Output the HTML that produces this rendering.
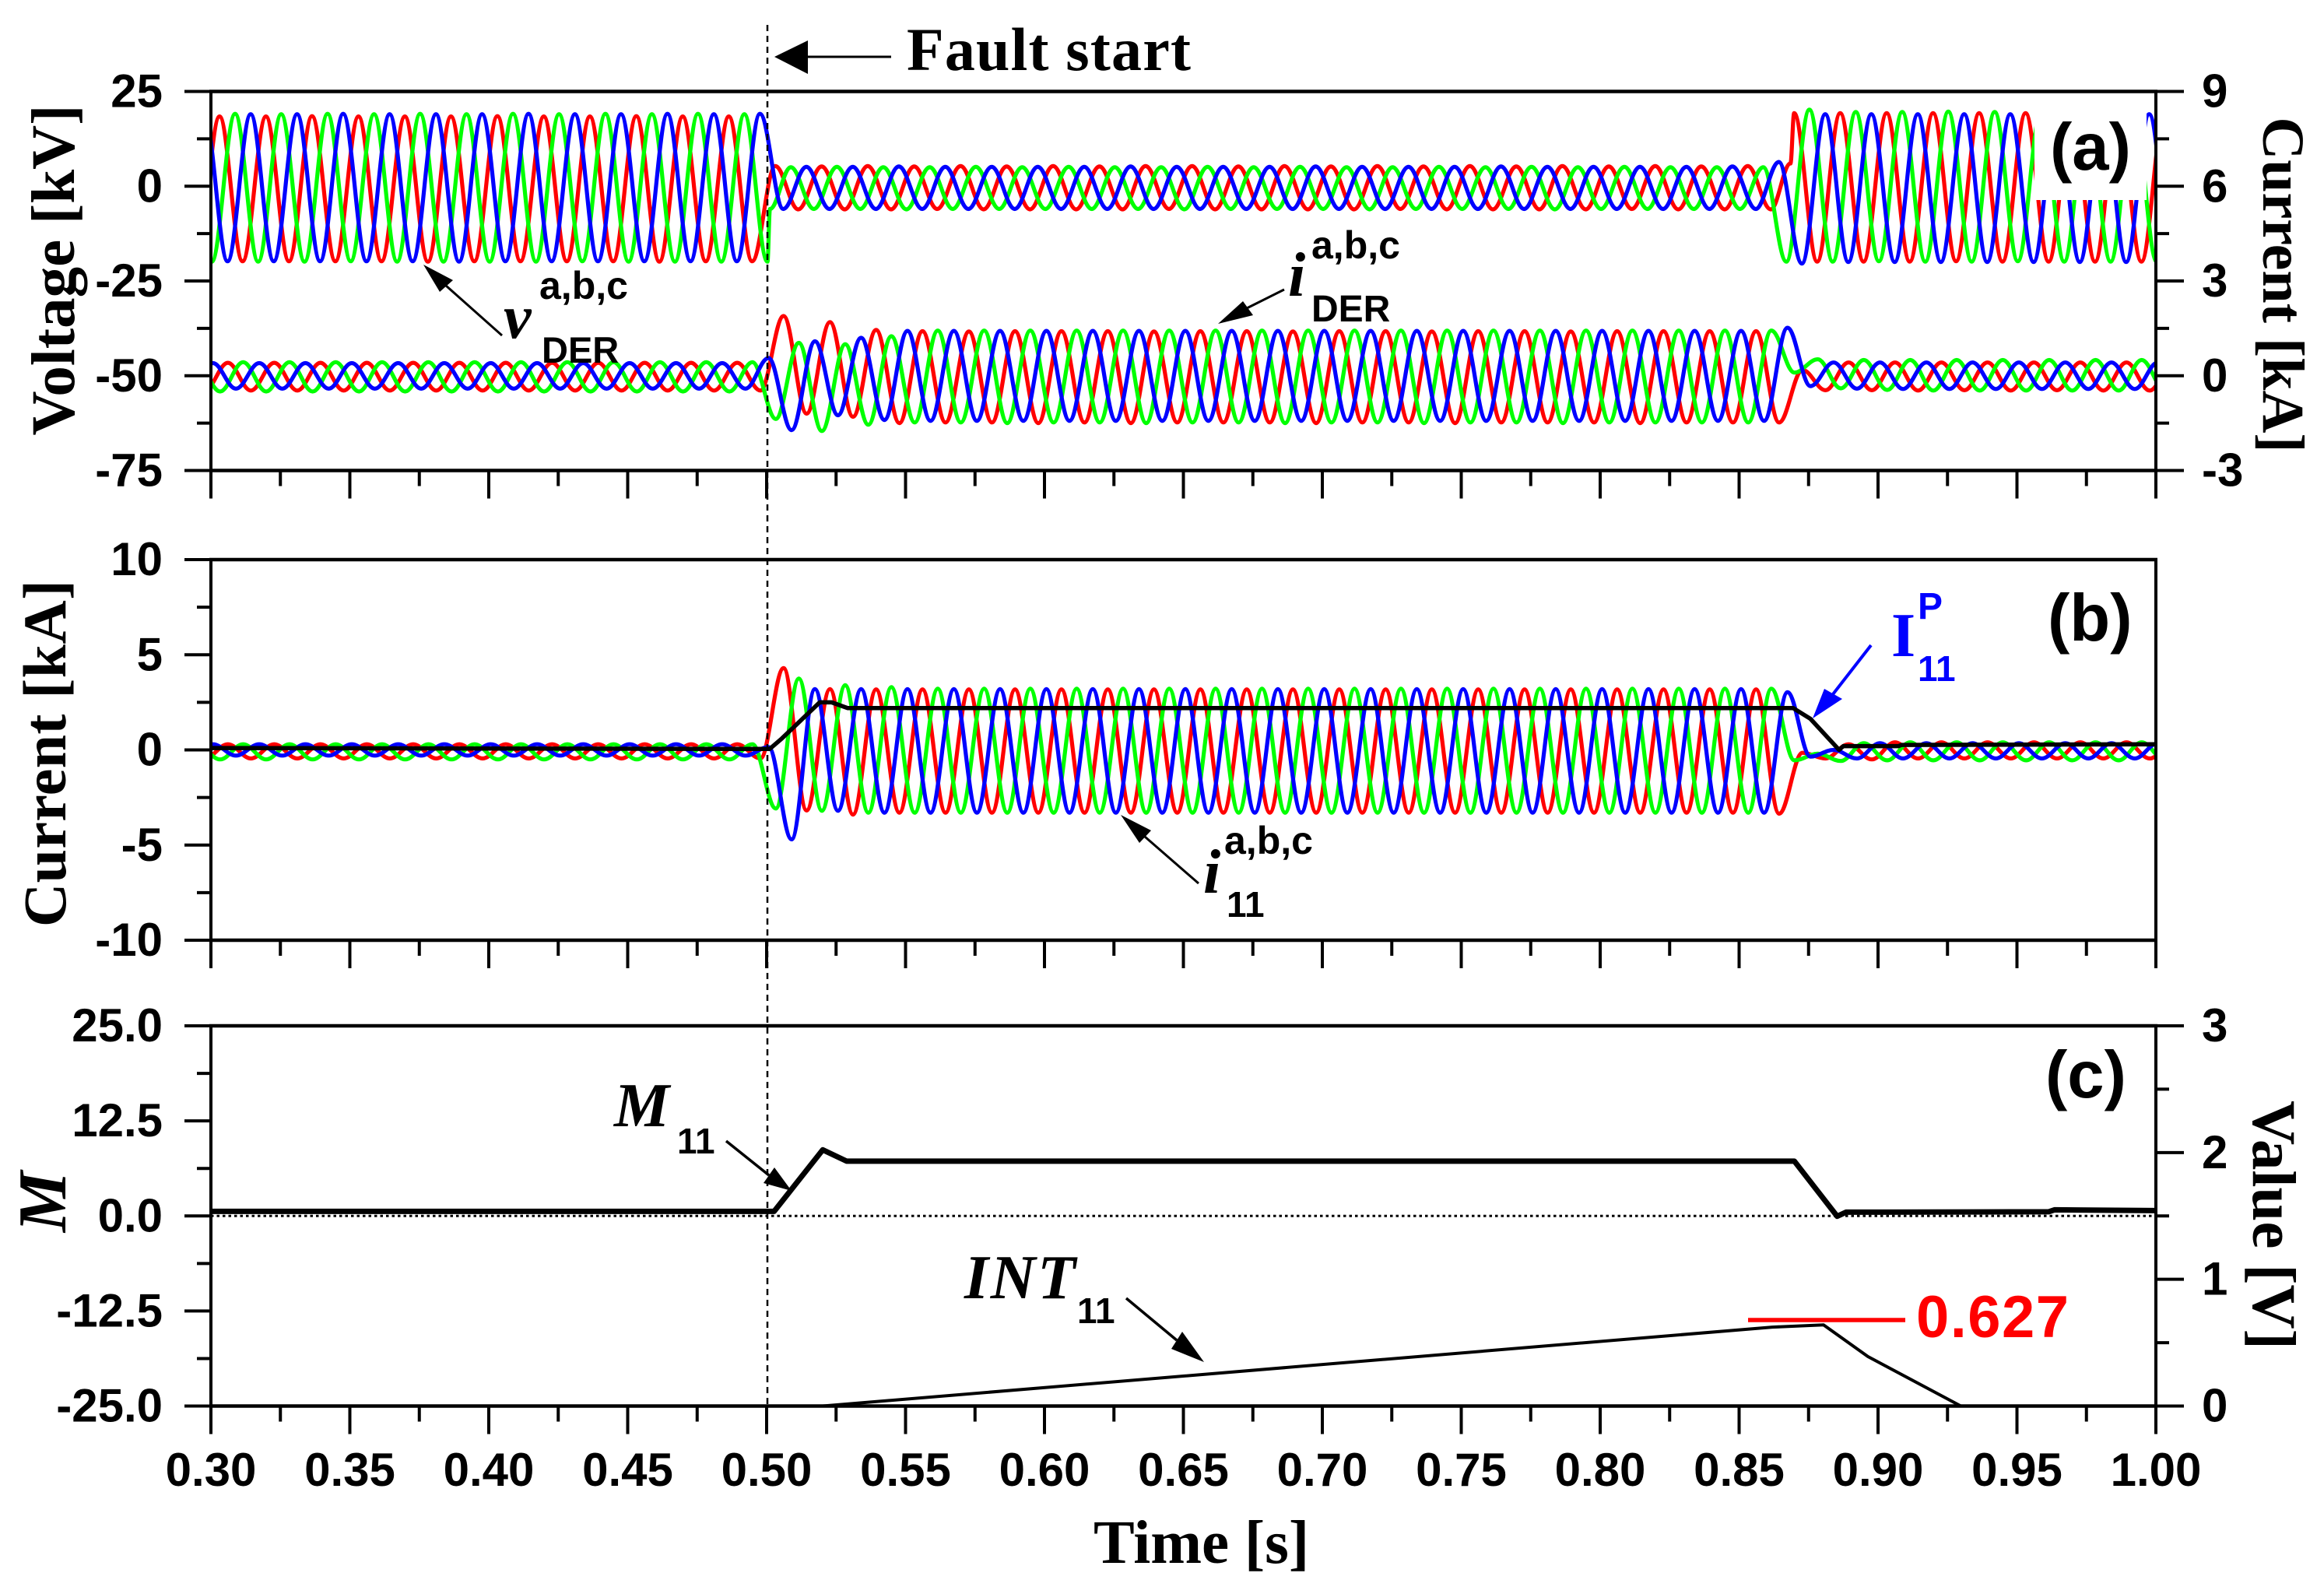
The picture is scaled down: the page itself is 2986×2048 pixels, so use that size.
<!DOCTYPE html>
<html lang="en">
<head>
<meta charset="utf-8">
<title>DER fault waveforms</title>
<style>
html,body{margin:0;padding:0;background:#fff;}
svg{display:block;}
.sans{font-family:"Liberation Sans",Arial,sans-serif;font-weight:bold;}
.serif{font-family:"Liberation Serif","Times New Roman",serif;font-weight:bold;}
.ital{font-family:"Liberation Serif","Times New Roman",serif;font-style:italic;font-weight:bold;}
</style>
</head>
<body>
<svg id="chart" width="2986" height="2048" viewBox="0 0 2986 2048">
<defs>
<clipPath id="clip-a"><rect x="271" y="118" width="2499" height="486"/></clipPath>
<clipPath id="clip-b"><rect x="271" y="719" width="2499" height="489"/></clipPath>
<clipPath id="clip-c"><rect x="271" y="1318" width="2499" height="489"/></clipPath>
</defs>
<rect x="0" y="0" width="2986" height="2048" fill="#fff"/>
<g id="series-a" clip-path="url(#clip-a)"></g>
<rect x="2614" y="119" width="144" height="138" fill="#fff"/>
<g id="series-b" clip-path="url(#clip-b)"></g>
<g id="series-c" clip-path="url(#clip-c)"></g>
<g id="axes"></g>

<line x1="986" y1="32" x2="986" y2="1806" stroke="#000" stroke-width="2.5" stroke-dasharray="8 6"/>
<polygon points="995,73 1038,52 1038,95" fill="#000"/>
<line x1="1038" y1="73" x2="1145" y2="73" stroke="#000" stroke-width="3"/>
<text x="1165" y="90" class="serif" font-size="78" textLength="365">Fault start</text>

<text transform="translate(95,347) rotate(-90)" text-anchor="middle" class="serif" font-size="79">Voltage [kV]</text>
<text transform="translate(2908,366) rotate(90)" text-anchor="middle" class="serif" font-size="76">Current [kA]</text>
<text transform="translate(84,968) rotate(-90)" text-anchor="middle" class="serif" font-size="78" textLength="446">Current [kA]</text>
<text transform="translate(84,1544) rotate(-90)" text-anchor="middle" class="ital" font-size="88">M</text>
<text transform="translate(2895,1574) rotate(90)" text-anchor="middle" class="serif" font-size="79">Value [V]</text>
<text x="1405" y="2008" class="serif" font-size="79">Time [s]</text>

<text x="2634" y="218" class="sans" font-size="85">(a)</text>
<text x="2631" y="823" class="sans" font-size="85">(b)</text>
<text x="2628" y="1410" class="sans" font-size="85">(c)</text>

<polygon points="544,340 582,360 565,375" fill="#000"/>
<line x1="573" y1="367" x2="645" y2="431" stroke="#000" stroke-width="3"/>
<text x="647" y="434" class="ital" font-size="80" font-weight="normal">v</text>
<text x="693" y="384" class="sans" font-size="50">a,b,c</text>
<text x="696" y="466" class="sans" font-size="47">DER</text>

<polygon points="1565,416 1597,387 1610,405" fill="#000"/>
<line x1="1602" y1="396" x2="1650" y2="372" stroke="#000" stroke-width="3"/>
<text x="1655" y="380" class="ital" font-size="80">i</text>
<text x="1685" y="332" class="sans" font-size="50">a,b,c</text>
<text x="1685" y="413" class="sans" font-size="48">DER</text>

<polygon points="1440,1047 1479,1067 1464,1083" fill="#000"/>
<line x1="1471" y1="1075" x2="1540" y2="1135" stroke="#000" stroke-width="3"/>
<text x="1546" y="1147" class="ital" font-size="80">i</text>
<text x="1573" y="1097" class="sans" font-size="50">a,b,c</text>
<text x="1576" y="1178" class="sans" font-size="46">11</text>

<polygon points="2329,923 2344,885 2367,898" fill="#0000ff"/>
<line x1="2355" y1="892" x2="2404" y2="829" stroke="#0000ff" stroke-width="4"/>
<text x="2430" y="843" class="serif" font-size="80" fill="#0000ff">I</text>
<text x="2464" y="795" class="sans" font-size="48" fill="#0000ff">P</text>
<text x="2464" y="875" class="sans" font-size="46" fill="#0000ff">11</text>

<polygon points="1017,1530 995,1500 981,1520" fill="#000"/>
<line x1="988" y1="1510" x2="933" y2="1466" stroke="#000" stroke-width="3.5"/>
<text x="789" y="1447" class="ital" font-size="80" textLength="77">M</text>
<text x="870" y="1482" class="sans" font-size="46">11</text>

<polygon points="1547,1750 1519,1711 1505,1733" fill="#000"/>
<line x1="1512" y1="1722" x2="1447" y2="1668" stroke="#000" stroke-width="3.5"/>
<text x="1239" y="1668" class="ital" font-size="80" textLength="143">INT</text>
<text x="1384" y="1700" class="sans" font-size="46">11</text>

<line x1="2246" y1="1696" x2="2448" y2="1696" stroke="#ff0000" stroke-width="5.5"/>
<text x="2462" y="1718" class="sans" font-size="76" fill="#ff0000" textLength="196">0.627</text>
</svg>

<script>
/* ---------- axis data ---------- */
const timeMajorTicks = [0.30,0.35,0.40,0.45,0.50,0.55,0.60,0.65,0.70,0.75,0.80,0.85,0.90,0.95,1.00];
const timeMinorTicks = [0.325,0.375,0.425,0.475,0.525,0.575,0.625,0.675,0.725,0.775,0.825,0.875,0.925,0.975];
const timeTickLabels = ["0.30","0.35","0.40","0.45","0.50","0.55","0.60","0.65","0.70","0.75","0.80","0.85","0.90","0.95","1.00"];
const voltageTicks = [-75,-50,-25,0,25];
const voltageMinorTicks = [-62.5,-37.5,-12.5,12.5];
const derCurrentTicks = [-3,0,3,6,9];
const derCurrentMinorTicks = [-1.5,1.5,4.5,7.5];
const relayCurrentTicks = [-10,-5,0,5,10];
const relayCurrentMinorTicks = [-7.5,-2.5,2.5,7.5];
const mTicks = [-25,-12.5,0,12.5,25];
const mMinorTicks = [-18.75,-6.25,6.25,18.75];
const mTickLabels = ["-25.0","-12.5","0.0","12.5","25.0"];
const valueTicks = [0,1,2,3];
const valueMinorTicks = [0.5,1.5,2.5];

/* ---------- v_DER half-cycle extrema, seconds and kV.
   Time rows and value rows line up one to one. ---------- */
const voltTimesA = [.2948,
.3031,.3114,.3198,.3281,.3364,.3448,
.3531,.3614,.3698,.3781,.3864,.3948,
.4031,.4114,.4198,.4281,.4364,.4448,
.4531,.4614,.4698,.4781,.4864,.4948,
.5031,.5114,.5198,.5281,.5364,.5448,
.5531,.5614,.5698,.5781,.5864,.5948,
.6031,.6114,.6198,.6281,.6364,.6448,
.6531,.6614,.6698,.6781,.6864,.6948,
.7031,.7114,.7198,.7281,.7364,.7448,
.7531,.7614,.7698,.7781,.7864,.7948,
.8031,.8114,.8198,.8281,.8364,.8448,
.8531,.8614,.8685,.8698,.8781,.8864,.8948,
.9031,.9114,.9198,.9281,.9364,.9448,
.9531,.9614,.9698,.9781,.9864,.9948,
1.0031];
const voltValuesA = [-19.8,
18.4,-19.8,18.4,-19.8,18.5,-19.8,
18.4,-19.8,18.4,-19.9,18.4,-19.8,
18.5,-19.8,18.4,-19.8,18.4,-19.8,
18.5,-19.9,18.4,-19.8,18.4,-19.8,
5.3,-6.1,5.2,-6.1,5.3,-6.1,
5.2,-6.0,5.3,-6.1,5.2,-6.1,
5.3,-6.1,5.2,-6.1,5.3,-6.0,
5.3,-6.1,5.2,-6.1,5.3,-6.1,
5.2,-6.1,5.3,-6.0,5.2,-6.1,
5.3,-6.1,5.2,-6.1,5.3,-6.1,
5.2,-6.0,5.3,-6.1,5.2,-6.1,
5.3,-6.1,6.0,19.3,-19.9,19.3,-19.9,
19.3,-19.9,19.3,-19.8,19.3,-19.9,
19.3,-19.9,19.3,-19.9,19.3,-19.9,
19.3];
const voltTimesB = [.2920,.3003,
.3087,.3170,.3253,.3337,.3420,.3503,
.3587,.3670,.3753,.3837,.3920,.4003,
.4087,.4170,.4253,.4337,.4420,.4503,
.4587,.4670,.4753,.4837,.4920,.5003,
.5012,
.5087,.5170,.5253,.5337,.5420,.5503,
.5587,.5670,.5753,.5837,.5920,.6003,
.6087,.6170,.6253,.6337,.6420,.6503,
.6587,.6670,.6753,.6837,.6920,.7003,
.7087,.7170,.7253,.7337,.7420,.7503,
.7587,.7670,.7753,.7837,.7920,.8003,
.8087,.8170,.8253,.8337,.8420,.8503,
.8587,.8670,.8753,.8837,.8920,.9003,
.9087,.9170,.9253,.9337,.9420,.9503,
.9587,.9670,.9753,.9837,.9920,1.0003];
const voltValuesB = [19.0,-19.9,
19.1,-19.9,19.0,-19.9,19.1,-19.8,
19.0,-19.9,19.1,-19.9,19.0,-19.9,
19.1,-19.9,19.0,-19.8,19.1,-19.9,
19.0,-19.9,19.1,-19.9,19.0,-19.9,
-6.0,
5.0,-6.0,5.1,-6.0,5.0,-6.1,
5.0,-6.0,5.1,-6.0,5.0,-6.0,
5.1,-6.0,5.0,-6.0,5.0,-6.1,
5.1,-6.0,5.0,-6.0,5.1,-6.0,
5.0,-6.1,5.0,-6.0,5.1,-6.0,
5.0,-6.0,5.1,-6.1,5.0,-6.0,
5.1,-6.0,5.0,-6.0,5.0,-6.0,
5.0,-19.9,20.2,-19.9,19.6,-19.8,
19.6,-19.9,19.7,-19.9,19.6,-19.8,
19.6,-19.9,19.6,-19.9,19.6,-19.9];
const voltTimesC = [.2976,.3060,
.3143,.3226,.3310,.3393,.3476,.3560,
.3643,.3726,.3810,.3893,.3976,.4060,
.4143,.4226,.4310,.4393,.4476,.4560,
.4643,.4726,.4810,.4893,.4976,
.5060,
.5143,.5226,.5310,.5393,.5476,.5560,
.5643,.5726,.5810,.5893,.5976,.6060,
.6143,.6226,.6310,.6393,.6476,.6560,
.6643,.6726,.6810,.6893,.6976,.7060,
.7143,.7226,.7310,.7393,.7476,.7560,
.7643,.7726,.7810,.7893,.7976,.8060,
.8143,.8226,.8310,.8393,.8476,.8560,
.8643,.8726,.8810,.8893,.8976,.9060,
.9143,.9226,.9310,.9393,.9476,.9560,
.9643,.9726,.9810,.9893,.9976,1.0060];
const voltValuesC = [19.0,-19.8,
19.0,-19.8,19.0,-19.8,19.1,-19.8,
19.0,-19.8,19.0,-19.9,19.0,-19.8,
19.1,-19.8,19.0,-19.8,19.0,-19.8,
19.1,-19.8,19.0,-19.8,19.1,
-6.0,
5.1,-6.0,5.1,-6.0,5.2,-6.0,
5.1,-6.0,5.1,-6.0,5.1,-6.0,
5.1,-6.0,5.2,-6.0,5.1,-6.0,
5.1,-6.0,5.1,-6.0,5.2,-6.0,
5.1,-6.0,5.1,-6.0,5.1,-6.0,
5.2,-6.0,5.1,-6.0,5.1,-6.0,
5.1,-6.0,5.1,-6.0,5.2,-6.0,
6.4,-20.4,19.0,-20.0,19.0,-20.0,
19.0,-20.0,19.0,-20.0,19.0,-20.0,
19.0,-20.0,19.0,-20.0,19.0,-20.0];

/* ---------- current half-cycle extrema times, shared by i_DER and i_11 ---------- */
const currentTimesA = [.2978,
.3061,.3144,.3228,.3311,.3394,.3478,
.3561,.3644,.3728,.3811,.3894,.3978,
.4061,.4144,.4228,.4311,.4394,.4478,
.4561,.4644,.4728,.4811,.4894,.4978,
.5061,.5144,.5228,.5311,.5394,.5478,
.5561,.5644,.5728,.5811,.5894,.5978,
.6061,.6144,.6228,.6311,.6394,.6478,
.6561,.6644,.6728,.6811,.6894,.6978,
.7061,.7144,.7228,.7311,.7394,.7478,
.7561,.7644,.7728,.7811,.7894,.7978,
.8061,.8144,.8228,.8311,.8394,.8478,
.8561,.8644,.8728,.8811,.8894,.8978,
.9061,.9144,.9228,.9311,.9394,.9478,
.9561,.9644,.9728,.9811,.9894,.9978,
1.0061];
const currentTimesB = [.2949,.3033,
.3116,.3199,.3283,.3366,.3449,.3533,
.3616,.3699,.3783,.3866,.3949,.4033,
.4116,.4199,.4283,.4366,.4449,.4533,
.4616,.4699,.4783,.4866,.4949,.5033,
.5116,.5199,.5283,.5366,.5449,.5533,
.5616,.5699,.5783,.5866,.5949,.6033,
.6116,.6199,.6283,.6366,.6449,.6533,
.6616,.6699,.6783,.6866,.6949,.7033,
.7116,.7199,.7283,.7366,.7449,.7533,
.7616,.7699,.7783,.7866,.7949,.8033,
.8116,.8199,.8283,.8366,.8449,.8533,
.8616,.8699,.8783,.8866,.8949,.9033,
.9116,.9199,.9283,.9366,.9449,.9533,
.9616,.9699,.9783,.9866,.9949,1.0033];
const currentTimesC = [.2924,
.3007,.3090,.3174,.3257,.3340,.3424,
.3507,.3590,.3674,.3757,.3840,.3924,
.4007,.4090,.4174,.4257,.4340,.4424,
.4507,.4590,.4674,.4757,.4840,.4924,
.5007,.5090,.5174,.5257,.5340,.5424,
.5507,.5590,.5674,.5757,.5840,.5924,
.6007,.6090,.6174,.6257,.6340,.6424,
.6507,.6590,.6674,.6757,.6840,.6924,
.7007,.7090,.7174,.7257,.7340,.7424,
.7507,.7590,.7674,.7757,.7840,.7924,
.8007,.8090,.8174,.8257,.8340,.8424,
.8507,.8590,.8674,.8757,.8840,.8924,
.9007,.9090,.9174,.9257,.9340,.9424,
.9507,.9590,.9674,.9757,.9840,.9924,
1.0007];

/* ---------- i_DER extrema from panel (a), kA ---------- */
const iDerA = [-.47,
.41,-.47,.41,-.47,.41,-.47,
.41,-.47,.41,-.47,.41,-.47,
.41,-.47,.41,-.47,.41,-.47,
.41,-.47,.41,-.47,.41,-.47,
1.89,-1.2,1.70,-1.3,1.45,-1.5,
1.41,-1.48,1.40,-1.48,1.41,-1.5,
1.41,-1.48,1.41,-1.5,1.40,-1.48,
1.41,-1.48,1.41,-1.48,1.40,-1.5,
1.41,-1.48,1.41,-1.48,1.40,-1.5,
1.41,-1.48,1.41,-1.48,1.40,-1.48,
1.41,-1.5,1.41,-1.48,1.41,-1.48,
1.41,-1.48,.18,-.46,.42,-.46,
.42,-.47,.42,-.46,.42,-.47,
.42,-.46,.42,-.47,.42,-.47,
.42];
const iDerB = [.43,-.5,
.43,-.5,.43,-.5,.43,-.5,
.43,-.5,.43,-.5,.43,-.5,
.43,-.5,.43,-.5,.43,-.5,
.43,-.5,.43,-.5,.43,-1.37,
1.04,-1.75,1.0,-1.55,1.25,-1.48,
1.43,-1.48,1.43,-1.5,1.43,-1.48,
1.43,-1.48,1.43,-1.5,1.43,-1.48,
1.43,-1.48,1.43,-1.5,1.43,-1.48,
1.43,-1.48,1.43,-1.5,1.43,-1.48,
1.43,-1.48,1.43,-1.5,1.43,-1.48,
1.43,-1.48,1.43,-1.48,1.43,-1.48,
1.43,.1,.52,-.4,.5,-.45,
.5,-.47,.5,-.47,.5,-.47,
.5,-.47,.5,-.47,.5,-.47];
const iDerC = [-.41,
.40,-.41,.40,-.41,.40,-.41,
.40,-.41,.40,-.41,.40,-.41,
.40,-.41,.40,-.41,.40,-.41,
.40,-.41,.40,-.41,.40,-.41,
.56,-1.72,1.09,-1.25,1.2,-1.4,
1.42,-1.43,1.42,-1.43,1.42,-1.43,
1.42,-1.43,1.42,-1.43,1.42,-1.43,
1.42,-1.43,1.42,-1.43,1.42,-1.43,
1.42,-1.43,1.42,-1.43,1.42,-1.43,
1.42,-1.43,1.42,-1.43,1.42,-1.43,
1.42,-1.43,1.42,-1.43,1.42,-1.43,
1.42,-1.43,1.52,-.33,.42,-.41,
.42,-.42,.42,-.42,.42,-.42,
.42,-.42,.42,-.42,.42,-.42,
.42];

/* ---------- i_11 extrema from panel (b), kA ---------- */
const i11A = [-.45,
.3,-.45,.3,-.45,.3,-.45,
.3,-.45,.3,-.45,.3,-.45,
.3,-.45,.3,-.45,.3,-.45,
.3,-.45,.3,-.45,.3,-.45,
4.3,-3.18,3.2,-3.4,3.18,-3.3,
3.18,-3.3,3.18,-3.3,3.18,-3.3,
3.18,-3.3,3.18,-3.3,3.18,-3.3,
3.18,-3.3,3.18,-3.3,3.18,-3.3,
3.18,-3.3,3.18,-3.3,3.18,-3.3,
3.18,-3.3,3.18,-3.3,3.18,-3.3,
3.18,-3.3,3.18,-3.3,3.18,-3.3,
3.18,-3.35,-.15,-.45,.3,-.5,
.4,-.45,.4,-.45,.4,-.45,
.4,-.45,.4,-.45,.4,-.45,
.4];
const i11B = [.3,-.5,
.3,-.5,.3,-.5,.3,-.5,
.3,-.5,.3,-.5,.3,-.5,
.3,-.5,.3,-.5,.3,-.5,
.3,-.5,.3,-.5,.3,-3.08,
3.75,-3.2,3.4,-3.3,3.3,-3.3,
3.22,-3.3,3.22,-3.3,3.22,-3.3,
3.22,-3.3,3.22,-3.3,3.22,-3.3,
3.22,-3.3,3.22,-3.3,3.22,-3.3,
3.22,-3.3,3.22,-3.3,3.22,-3.3,
3.22,-3.3,3.22,-3.3,3.22,-3.3,
3.22,-3.3,3.22,-3.3,3.22,-3.3,
3.22,-.55,-.2,-.58,.35,-.55,
.4,-.55,.4,-.55,.4,-.55,
.4,-.55,.4,-.55,.4,-.55];
const i11C = [-.3,
.3,-.3,.3,-.3,.3,-.3,
.3,-.3,.3,-.3,.3,-.3,
.3,-.3,.3,-.3,.3,-.3,
.3,-.3,.3,-.3,.3,-.3,
.15,-4.7,3.2,-3.2,3.2,-3.3,
3.2,-3.3,3.2,-3.3,3.2,-3.3,
3.2,-3.3,3.2,-3.3,3.2,-3.3,
3.2,-3.3,3.2,-3.3,3.2,-3.3,
3.2,-3.3,3.2,-3.3,3.2,-3.3,
3.2,-3.3,3.2,-3.3,3.2,-3.3,
3.2,-3.3,3.2,-3.3,3.2,-3.3,
3.2,-3.3,3.03,-.35,0,-.45,
.35,-.45,.35,-.45,.35,-.45,
.35,-.45,.35,-.45,.35,-.45,
.35];

/* ---------- i_11 peak envelope, panel (b) ---------- */
const i11PeakTimes = [.30,.5011,.5055,.5191,.5234,.5291,.8694,.8757,.8860,.8875,.9074,.9085,1.00];
const i11PeakValues = [.1,.05,.6,2.5,2.5,2.2,2.2,1.63,0,.2,.2,.26,.3];

/* ---------- M11 and INT11, panel (c) ---------- */
const m11Times = [.30,.5027,.5202,.5288,.8699,.8853,.8885,.9614,.9635,1.00];
const m11Values = [.6,.6,8.7,7.2,7.2,-.05,.5,.55,.8,.7];
const int11Times = [.30,.5202,.8620,.8804,.8964,.9298,1.00];
const int11Values = [0,0,.623,.64,.39,0,0];

/* ---------- scales ---------- */
const svg = document.getElementById('chart');
const linearScale = (d0, d1, r0, r1) => v => r0 + (v - d0) / (d1 - d0) * (r1 - r0);
const xOf = linearScale(0.3, 1.0, 271, 2770);
const yVoltage = linearScale(-75, 25, 604.5, 117.5);
const yDerCurrent = linearScale(-3, 9, 604.5, 117.5);
const yRelayCurrent = linearScale(-10, 10, 1208, 719);
const yM = linearScale(-25, 25, 1806.5, 1318);
const yValue = linearScale(0, 3, 1806.5, 1318);

function create(tag, parent) {
  const e = document.createElementNS(svg.namespaceURI, tag);
  parent.appendChild(e);
  return e;
}

/* smooth curve through half-cycle extrema: flat tangent at each extremum */
function waveformPath(times, values, yOf) {
  const n = Math.min(times.length, values.length);
  let d = 'M' + xOf(times[0]).toFixed(1) + ' ' + yOf(values[0]).toFixed(1);
  for (let i = 1; i < n; i++) {
    const x0 = xOf(times[i - 1]), x1 = xOf(times[i]);
    const y0 = yOf(values[i - 1]), y1 = yOf(values[i]);
    const h = (x1 - x0) * 0.3642;
    d += 'C' + (x0 + h).toFixed(1) + ' ' + y0.toFixed(1) + ' ' + (x1 - h).toFixed(1) + ' ' + y1.toFixed(1) + ' ' + x1.toFixed(1) + ' ' + y1.toFixed(1);
  }
  return d;
}
function polylinePath(times, values, yOf) {
  return times.map((t, i) => (i ? 'L' : 'M') + xOf(t).toFixed(1) + ' ' + yOf(values[i]).toFixed(1)).join('');
}
function drawPath(parent, d, color, width, name) {
  const p = create('path', parent);
  p.setAttribute('d', d);
  p.setAttribute('fill', 'none');
  p.setAttribute('stroke', color);
  p.setAttribute('stroke-width', width);
  p.setAttribute('stroke-linejoin', 'round');
  
  
}

/* ---------- series ---------- */
const groupA = document.getElementById('series-a');
const groupB = document.getElementById('series-b');
const groupC = document.getElementById('series-c');
const RED = '#ff0000', GREEN = '#00ff00', BLUE = '#0000ff';
const WAVE = 5.2;

drawPath(groupA, waveformPath(voltTimesA, voltValuesA, yVoltage), RED, WAVE, 'v-der-phase-a');
drawPath(groupA, waveformPath(voltTimesB, voltValuesB, yVoltage), GREEN, WAVE, 'v-der-phase-b');
drawPath(groupA, waveformPath(voltTimesC, voltValuesC, yVoltage), BLUE, WAVE, 'v-der-phase-c');
drawPath(groupA, waveformPath(currentTimesA, iDerA, yDerCurrent), RED, WAVE, 'i-der-phase-a');
drawPath(groupA, waveformPath(currentTimesB, iDerB, yDerCurrent), GREEN, WAVE, 'i-der-phase-b');
drawPath(groupA, waveformPath(currentTimesC, iDerC, yDerCurrent), BLUE, WAVE, 'i-der-phase-c');

drawPath(groupB, waveformPath(currentTimesA, i11A, yRelayCurrent), RED, WAVE, 'i11-phase-a');
drawPath(groupB, waveformPath(currentTimesB, i11B, yRelayCurrent), GREEN, WAVE, 'i11-phase-b');
drawPath(groupB, waveformPath(currentTimesC, i11C, yRelayCurrent), BLUE, WAVE, 'i11-phase-c');
drawPath(groupB, polylinePath(i11PeakTimes, i11PeakValues, yRelayCurrent), '#000', 5.5, 'i11-peak-line');

drawPath(groupC, polylinePath(int11Times, int11Values, yValue), '#000', 4, 'int11-line');
drawPath(groupC, polylinePath(m11Times, m11Values, yM), '#000', 7, 'm11-line');

/* ---------- axes ---------- */
const axes = document.getElementById('axes');

function addLine(x1, y1, x2, y2, width, name, dash) {
  const l = create('line', axes);
  l.setAttribute('x1', x1);
  l.setAttribute('y1', y1);
  l.setAttribute('x2', x2);
  l.setAttribute('y2', y2);
  l.setAttribute('stroke', '#000');
  l.setAttribute('stroke-width', width);
  if (dash) l.setAttribute('stroke-dasharray', dash);
  
  
}
function addLabel(x, y, text, anchor, name) {
  const t = create('text', axes);
  t.setAttribute('x', x);
  t.setAttribute('y', y);
  t.setAttribute('text-anchor', anchor);
  t.setAttribute('class', 'sans');
  t.setAttribute('font-size', '60');
  t.textContent = text;
  
  
}
function drawFrame(top, bottom, prefix) {
  addLine(269, top, 2772, top, 4.5, prefix + '-top-axis');
  addLine(269, bottom, 2772, bottom, 4.5, prefix + '-bottom-axis');
  addLine(271, top, 271, bottom, 4, prefix + '-left-axis');
  addLine(2770, top, 2770, bottom, 4, prefix + '-right-axis');
  timeMajorTicks.forEach(t => addLine(xOf(t), bottom, xOf(t), bottom + 36, 4, prefix + '-time-major-tick'));
  timeMinorTicks.forEach(t => addLine(xOf(t), bottom, xOf(t), bottom + 20, 4, prefix + '-time-minor-tick'));
}
function drawLeftTicks(major, minor, labels, yOf, prefix) {
  major.forEach((v, i) => {
    addLine(237, yOf(v), 271, yOf(v), 4, prefix + '-left-major-tick');
    addLabel(209, yOf(v) + 20, labels[i], 'end', prefix + '-left-tick-label');
  });
  minor.forEach(v => addLine(253, yOf(v), 271, yOf(v), 4, prefix + '-left-minor-tick'));
}
function drawRightTicks(major, minor, labels, yOf, prefix) {
  major.forEach((v, i) => {
    addLine(2770, yOf(v), 2806, yOf(v), 4, prefix + '-right-major-tick');
    addLabel(2829, yOf(v) + 20, labels[i], 'start', prefix + '-right-tick-label');
  });
  minor.forEach(v => addLine(2770, yOf(v), 2787, yOf(v), 4, prefix + '-right-minor-tick'));
}

drawFrame(117.5, 604.5, 'panel-a');
drawFrame(719, 1208, 'panel-b');
drawFrame(1318, 1806.5, 'panel-c');

drawLeftTicks(voltageTicks, voltageMinorTicks, voltageTicks.map(String), yVoltage, 'panel-a');
drawRightTicks(derCurrentTicks, derCurrentMinorTicks, derCurrentTicks.map(String), yDerCurrent, 'panel-a');
drawLeftTicks(relayCurrentTicks, relayCurrentMinorTicks, relayCurrentTicks.map(String), yRelayCurrent, 'panel-b');
drawLeftTicks(mTicks, mMinorTicks, mTickLabels, yM, 'panel-c');
drawRightTicks(valueTicks, valueMinorTicks, valueTicks.map(String), yValue, 'panel-c');

addLine(271, yM(0), 2770, yM(0), 3, 'panel-c-zero-line', '3.5 4');
timeMajorTicks.forEach((t, i) => addLabel(xOf(t), 1909, timeTickLabels[i], 'middle', 'time-tick-label'));
</script>
</body>
</html>
